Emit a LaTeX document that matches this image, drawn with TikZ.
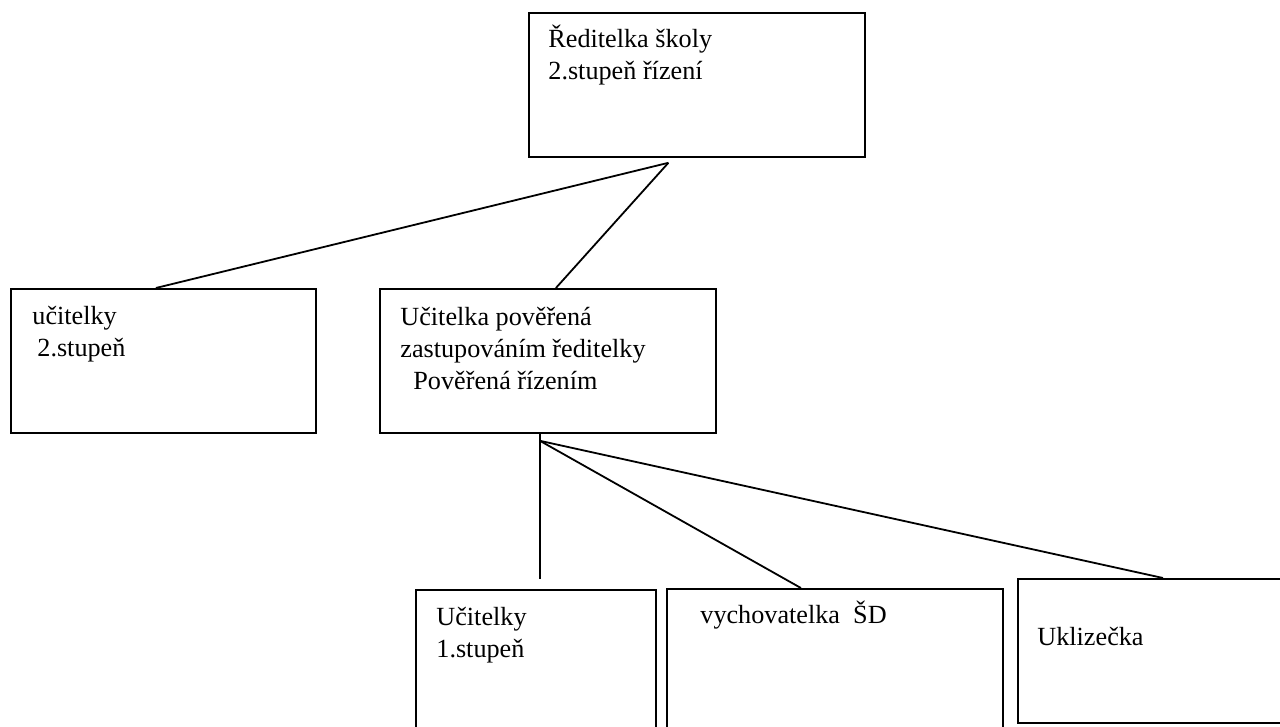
\documentclass[tikz,border=0pt]{standalone}
\usepackage{fontspec}
\setmainfont{Liberation Serif}
\usetikzlibrary{positioning, calc}

\begin{document}
\begin{tikzpicture}[
    x=0.5pt, y=-0.5pt,
    every node/.style={font=\fontsize{13.1}{16}\selectfont},
    % --- node styles ---
    box/.style={draw, line width=0.9pt, anchor=north west, inner sep=0pt},
    widebox/.style={box, minimum width=168pt, minimum height=72pt},
    txt/.style={anchor=base west, align=left, inner sep=0pt},
    % --- connector style ---
    conn/.style={line width=0.9pt},
]

\clip (0,0) rectangle (1280,727);
\fill[white] (0,0) rectangle (1280,727);

% ===== TOP LEVEL ============================================================

% -- Reditelka --
\node[widebox] (reditelka) at (528,12) {};
\node[txt] (reditelkaTxt) at ([shift={(20,68)}]reditelka.north west)
    {Ředitelka školy\\2.stupeň řízení};

% ===== SECOND LEVEL =========================================================

% -- Ucitelky 2. stupen --
\node[box, minimum width=152.5pt, minimum height=72pt] (ucitelkyII) at (10,288) {};
\node[txt] (ucitelkyIITxt) at ([shift={(22,69)}]ucitelkyII.north west)
    {učitelky\\\hspace*{2.5pt}2.stupeň};

% -- Poverena ucitelka --
\node[widebox] (poverena) at (379,288) {};
\node[txt] (poverenaTxt) at ([shift={(21,101)}]poverena.north west)
    {Učitelka pověřená\\zastupováním ředitelky\\\hspace*{6.5pt}Pověřená řízením};

% ===== THIRD LEVEL ==========================================================

% -- Ucitelky 1. stupen --
\node[box, minimum width=120pt, minimum height=100pt] (ucitelkyI) at (415,589) {};
\node[txt] (ucitelkyITxt) at ([shift={(21,68)}]ucitelkyI.north west)
    {Učitelky\\1.stupeň};

% -- Vychovatelka --
\node[box, minimum width=168pt, minimum height=100pt] (vychovatelka) at (666,588) {};
\node[txt] (vychovatelkaTxt) at ([shift={(34,35)}]vychovatelka.north west)
    {vychovatelka\ \ ŠD};

% -- Uklizecka --
\node[box, minimum width=150pt, minimum height=72pt] (uklizecka) at (1017,578) {};
\node[txt] (uklizeckaTxt) at ([shift={(20,67)}]uklizecka.north west)
    {Uklizečka};

% ===== CONNECTORS ===========================================================

\coordinate (forkTop) at ([shift={(-28.5,5)}]reditelka.south);
\coordinate (forkBot) at ([shift={(-8,7)}]poverena.south);
\coordinate (stub)    at ([shift={(-8,145)}]poverena.south);

\draw[conn] (forkTop) -- ([xshift=-3.75pt]ucitelkyII.north);
\draw[conn] (forkTop) -- ([xshift=4pt]poverena.north);

\draw[conn] (poverena.south -| forkBot) -- (stub);
\draw[conn] (forkBot) -- ([xshift=-17pt]vychovatelka.north);
\draw[conn] (forkBot) -- ([xshift=73pt]uklizecka.north west);

\end{tikzpicture}
\end{document}
